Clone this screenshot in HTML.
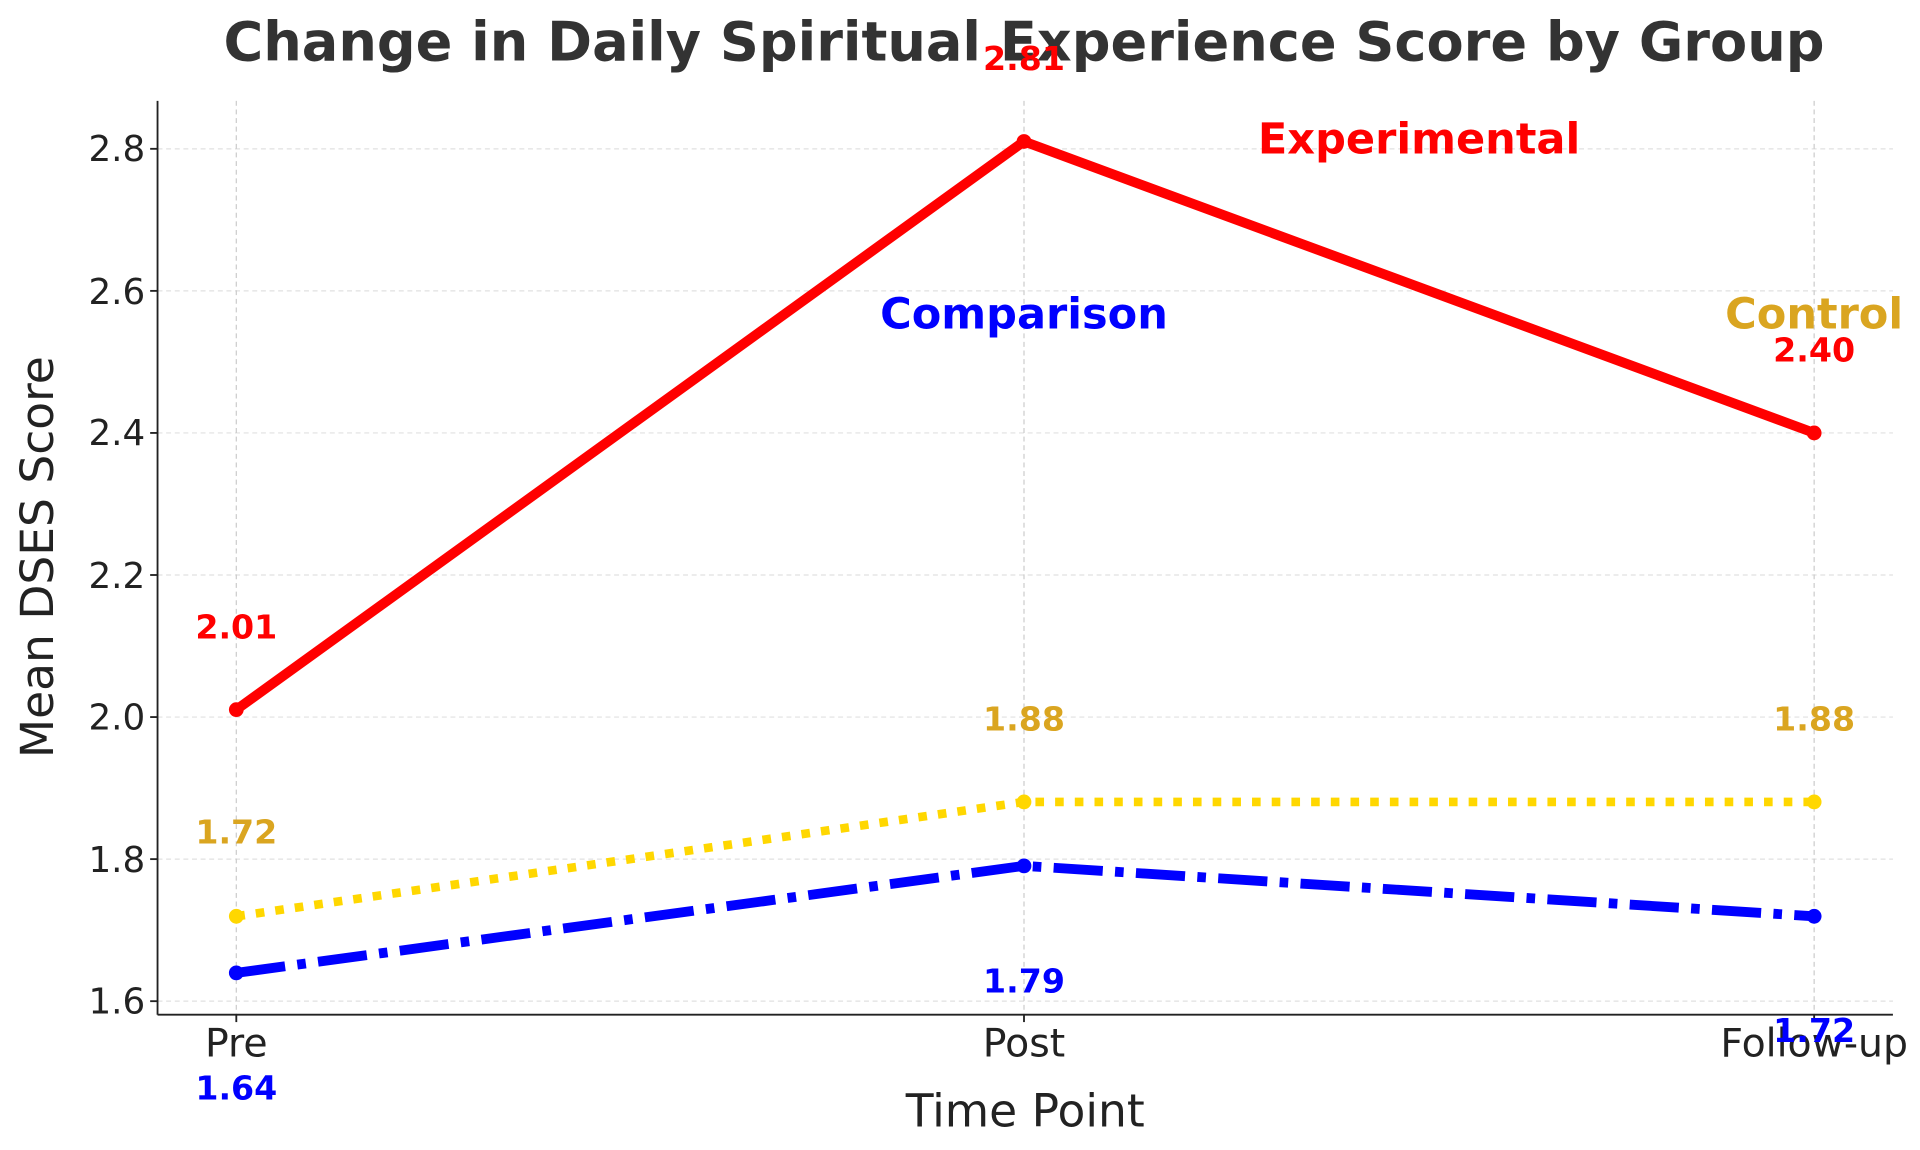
<!DOCTYPE html>
<html><head><meta charset="utf-8"><style>html,body{margin:0;padding:0;background:#fff}svg{display:block}</style></head>
<body>
<svg width="1920" height="1150" viewBox="0 0 1560 935" preserveAspectRatio="none" xmlns="http://www.w3.org/2000/svg" font-family="DejaVu Sans, Liberation Sans, sans-serif">
<rect width="1560" height="935" fill="#fff"/>
<g stroke="#e0e0e0" stroke-width="1" stroke-dasharray="4,3">
<line x1="128" x2="1538" y1="814" y2="814"/><line x1="128" x2="1538" y1="698.5" y2="698.5"/>
<line x1="128" x2="1538" y1="583" y2="583"/><line x1="128" x2="1538" y1="467.5" y2="467.5"/>
<line x1="128" x2="1538" y1="352" y2="352"/><line x1="128" x2="1538" y1="236.5" y2="236.5"/>
<line x1="128" x2="1538" y1="121" y2="121"/>
<line x1="192" x2="192" y1="82" y2="825" stroke="#ccc"/><line x1="832" x2="832" y1="82" y2="825" stroke="#ccc"/><line x1="1474" x2="1474" y1="82" y2="825" stroke="#ccc"/>
</g>
<g stroke="#222" stroke-width="1.5">
<line x1="128" y1="82" x2="128" y2="825"/><line x1="128" y1="825" x2="1538" y2="825"/>
<line x1="122" x2="128" y1="814" y2="814"/><line x1="122" x2="128" y1="698.5" y2="698.5"/><line x1="122" x2="128" y1="583" y2="583"/><line x1="122" x2="128" y1="467.5" y2="467.5"/><line x1="122" x2="128" y1="352" y2="352"/><line x1="122" x2="128" y1="236.5" y2="236.5"/><line x1="122" x2="128" y1="121" y2="121"/>
<line x1="192" x2="192" y1="825" y2="831"/><line x1="832" x2="832" y1="825" y2="831"/><line x1="1474" x2="1474" y1="825" y2="831"/>
</g>
<g font-size="29" fill="#222" text-anchor="end">
<text x="118" y="824">1.6</text><text x="118" y="709">1.8</text><text x="118" y="593">2.0</text><text x="118" y="478">2.2</text><text x="118" y="362">2.4</text><text x="118" y="247">2.6</text><text x="118" y="131">2.8</text>
</g>
<g font-size="32" fill="#222" text-anchor="middle">
<text x="192" y="859">Pre</text><text x="832" y="859">Post</text><text x="1474" y="859">Follow-up</text>
</g>
<text x="833" y="916" font-size="37" fill="#222" text-anchor="middle">Time Point</text>
<text transform="translate(43,453) rotate(-90)" font-size="37" fill="#222" text-anchor="middle">Mean DSES Score</text>
<text x="832" y="49" font-size="44" font-weight="bold" fill="#333" text-anchor="middle">Change in Daily Spiritual Experience Score by Group</text>
<polyline points="192,745 832,652 1474,652" fill="none" stroke="#FFD700" stroke-width="7" stroke-dasharray="7,9"/>
<polyline points="192,791 832,704 1474,745" fill="none" stroke="#0000FF" stroke-width="8" stroke-dasharray="40,10,7,10"/>
<polyline points="192,577 832,115 1474,352" fill="none" stroke="#FF0000" stroke-width="8" stroke-linejoin="round"/>
<g fill="#FFD700"><circle cx="192" cy="745" r="6"/><circle cx="832" cy="652" r="6"/><circle cx="1474" cy="652" r="6"/></g>
<g fill="#0000FF"><circle cx="192" cy="791" r="6"/><circle cx="832" cy="704" r="6"/><circle cx="1474" cy="745" r="6"/></g>
<g fill="#FF0000"><circle cx="192" cy="577" r="6"/><circle cx="832" cy="115" r="6"/><circle cx="1474" cy="352" r="6"/></g>
<g font-size="27" font-weight="bold" text-anchor="middle">
<text x="192" y="519" fill="#FF0000">2.01</text><text x="832" y="57" fill="#FF0000">2.81</text><text x="1474" y="294" fill="#FF0000">2.40</text>
<text x="192" y="686" fill="#DAA520">1.72</text><text x="832" y="594" fill="#DAA520">1.88</text><text x="1474" y="594" fill="#DAA520">1.88</text>
<text x="192" y="894" fill="#0000FF">1.64</text><text x="832" y="807" fill="#0000FF">1.79</text><text x="1474" y="847" fill="#0000FF">1.72</text>
</g>
<g font-size="35" font-weight="bold" text-anchor="middle">
<text x="1153" y="125" fill="#FF0000">Experimental</text>
<text x="832" y="267" fill="#0000FF">Comparison</text>
<text x="1474" y="267" fill="#DAA520">Control</text>
</g>
</svg>
</body></html>
